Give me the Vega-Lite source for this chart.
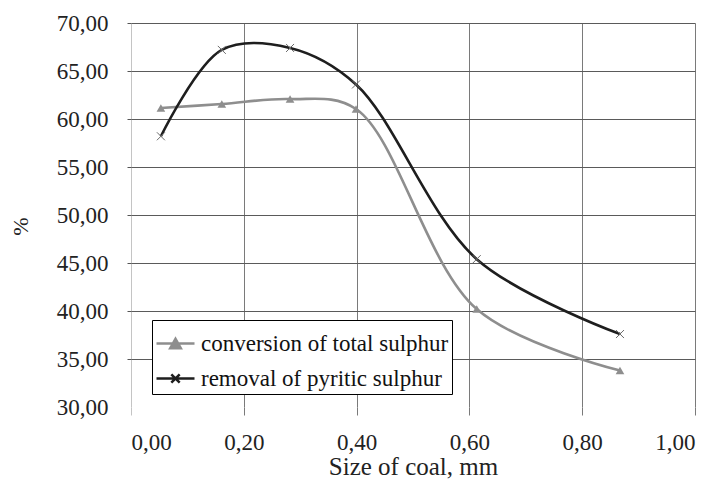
{
  "$schema": "https://vega.github.io/schema/vega-lite/v6.json",
  "width": 564,
  "height": 384,
  "autosize": {"type": "none"},
  "padding": {"left": 131, "top": 23, "right": 33, "bottom": 72},
  "background": "white",
  "data": {
    "values": [
      {"series": "conversion of total sulphur", "size": 0.053, "pct": 61.15},
      {"series": "conversion of total sulphur", "size": 0.161, "pct": 61.56},
      {"series": "conversion of total sulphur", "size": 0.282, "pct": 62.08},
      {"series": "conversion of total sulphur", "size": 0.399, "pct": 61.04},
      {"series": "conversion of total sulphur", "size": 0.613, "pct": 40.2},
      {"series": "conversion of total sulphur", "size": 0.867, "pct": 33.8},
      {"series": "removal of pyritic sulphur", "size": 0.053, "pct": 58.2},
      {"series": "removal of pyritic sulphur", "size": 0.161, "pct": 67.2},
      {"series": "removal of pyritic sulphur", "size": 0.282, "pct": 67.4},
      {"series": "removal of pyritic sulphur", "size": 0.399, "pct": 63.6},
      {"series": "removal of pyritic sulphur", "size": 0.613, "pct": 45.4},
      {"series": "removal of pyritic sulphur", "size": 0.867, "pct": 37.6}
    ]
  },
  "encoding": {
    "x": {
      "field": "size",
      "type": "quantitative",
      "scale": {"domain": [0, 1], "nice": false},
      "axis": {
        "title": "Size of coal, mm",
        "values": [0, 0.2, 0.4, 0.6, 0.8, 1],
        "labelExpr": "replace(format(datum.value, '.2f'), '.', ',')",
        "labelFont": "Liberation Serif",
        "labelFontSize": 23,
        "labelColor": "#222222",
        "domain": false,
        "tickSize": 8,
        "tickColor": {"condition": {"test": "datum.value == 0", "value": "#c4c4c4"}, "value": "#7a7a7a"},
        "gridColor": {"condition": {"test": "datum.value == 0", "value": "#c4c4c4"}, "value": "#7a7a7a"},
        "labelPadding": 16,
        "titleFont": "Liberation Serif",
        "titleFontSize": 25,
        "titleBaseline": "alphabetic",
        "titleY": 67
      }
    },
    "y": {
      "field": "pct",
      "type": "quantitative",
      "scale": {"domain": [30, 70], "nice": false},
      "axis": {
        "title": "%",
        "values": [30, 35, 40, 45, 50, 55, 60, 65, 70],
        "labelExpr": "replace(format(datum.value, '.2f'), '.', ',')",
        "labelFont": "Liberation Serif",
        "labelFontSize": 23,
        "labelColor": "#222222",
        "domain": false,
        "tickSize": 4,
        "tickColor": "#555555",
        "tickOpacity": {"condition": {"test": "datum.value == 30", "value": 0}, "value": 1},
        "gridColor": "#5a5a5a",
        "gridOpacity": {"condition": {"test": "datum.value == 30", "value": 0}, "value": 1},
        "labelPadding": 19,
        "titleFont": "Liberation Serif",
        "titleFontSize": 22,
        "titleBaseline": "middle",
        "titleX": -111,
        "titleY": 203
      }
    }
  },
  "layer": [
    {
      "mark": {"type": "line", "interpolate": "catmull-rom", "strokeWidth": 2.6},
      "encoding": {
        "color": {
          "field": "series",
          "type": "nominal",
          "scale": {
            "domain": ["conversion of total sulphur", "removal of pyritic sulphur"],
            "range": ["#8e8e8e", "#1e1e1e"]
          },
          "legend": {
            "title": null,
            "orient": "none",
            "legendX": 21,
            "legendY": 297,
            "strokeColor": "black",
            "fillColor": "white",
            "padding": 3,
            "symbolSize": 1444,
            "symbolStrokeWidth": 2.5,
            "labelFont": "Liberation Serif",
            "labelFontSize": 23,
            "labelColor": "#111111",
            "labelLimit": 400,
            "labelOffset": 5,
            "rowPadding": 2,
            "encode": {
              "symbols": {
                "update": {
                  "shape": {"signal": "datum.value == 'conversion of total sulphur' ? 'M-1,0L1,0M-0.28,0.25L0,-0.25L0.28,0.25Z' : 'M-1,0L1,0M-0.22,-0.22L0.22,0.22M-0.22,0.22L0.22,-0.22'"},
                  "fill": {"signal": "datum.value == 'conversion of total sulphur' ? '#8e8e8e' : 'transparent'"},
                  "strokeWidth": {"value": 2.5}
                }
              }
            }
          }
        }
      }
    },
    {
      "transform": [{"filter": "datum.series == 'conversion of total sulphur'"}],
      "mark": {"type": "point", "shape": "triangle-up", "filled": true, "size": 75, "color": "#8e8e8e", "opacity": 1}
    },
    {
      "transform": [{"filter": "datum.series == 'removal of pyritic sulphur'"}],
      "mark": {"type": "point", "shape": "M-1,-1L1,1M-1,1L1,-1", "filled": false, "size": 64, "color": "#6a6a6a", "strokeWidth": 1, "opacity": 1}
    }
  ],
  "config": {
    "view": {"stroke": null},
    "axis": {
      "titleFontWeight": "normal",
      "titleColor": "#222222",
      "gridWidth": 1,
      "gridOpacity": 1
    }
  }
}
